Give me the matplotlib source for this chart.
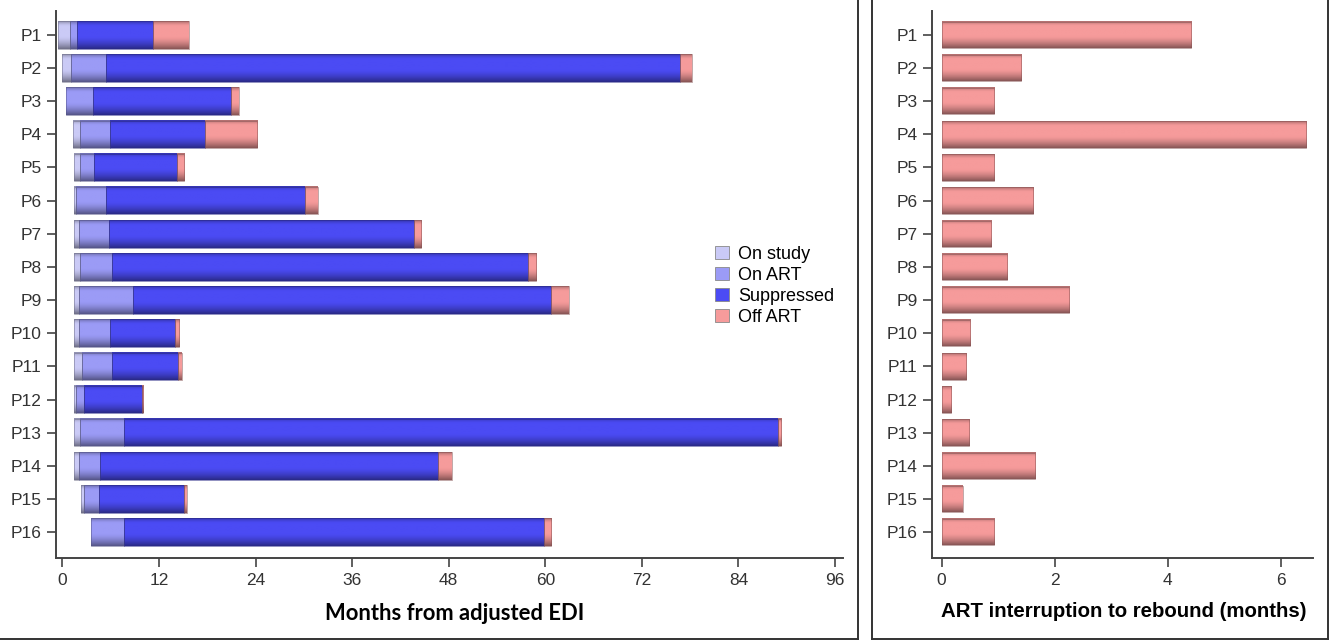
import numpy as np
import matplotlib
matplotlib.use("Agg")
import matplotlib.pyplot as plt
from matplotlib.patches import Patch, Rectangle
from matplotlib.lines import Line2D
import matplotlib.colors as mcolors

participants = ["P1", "P2", "P3", "P4", "P5", "P6", "P7", "P8",
                "P9", "P10", "P11", "P12", "P13", "P14", "P15", "P16"]
# months from adjusted EDI
study_start = [-0.5, -0.1, 0.4, 1.27, 1.39, 1.43, 1.43, 1.43,
               1.43, 1.43, 1.43, 1.43, 1.43, 1.43, 2.3, 3.58]
art_start = [0.93, 1.06, 0.4, 2.17, 2.17, 1.68, 2.0, 2.17,
             2.0, 2.09, 2.42, 1.68, 2.17, 2.0, 2.67, 3.58]
suppressed_start = [1.76, 5.4, 3.75, 5.86, 3.91, 5.4, 5.78, 6.11,
                    8.76, 5.94, 6.11, 2.71, 7.64, 4.66, 4.5, 7.64]
off_art_start = [11.28, 76.8, 21.0, 17.7, 14.22, 30.2, 43.7, 57.8,
                 60.7, 14.0, 14.4, 9.84, 88.9, 46.7, 15.1, 59.85]
rebound_time = [15.67, 78.2, 21.9, 24.2, 15.1, 31.8, 44.6, 58.9,
                62.9, 14.5, 14.85, 10.0, 89.35, 48.4, 15.45, 60.75]
# ART interruption to rebound (months)
interruption = [4.41, 1.40, 0.93, 6.45, 0.93, 1.62, 0.87, 1.16,
                2.25, 0.50, 0.44, 0.17, 0.48, 1.65, 0.37, 0.93]

months_ticks = [0, 12, 24, 36, 48, 60, 72, 84, 96]
right_ticks = [0, 2, 4, 6]

seg_names = ["On study", "On ART", "Suppressed", "Off ART"]
seg_colors = ["#cacaf6", "#9b9bf6", "#4b4bf4", "#f69b9b"]

W, H = 1337, 641
fig = plt.figure(figsize=(W / 100, H / 100), dpi=100)

def px(x0, y0, x1, y1):
    return [x0 / W, 1 - y1 / H, (x1 - x0) / W, (y1 - y0) / H]

ax1 = fig.add_axes(px(56, 11, 843, 558))
ax2 = fig.add_axes(px(932, 11, 1313, 558))

t = np.linspace(0, 1, 64)
shade = 1 - 0.45 * np.clip((t - 0.55) / 0.45, 0, 1) ** 1.5 \
          - 0.30 * np.clip((0.18 - t) / 0.18, 0, 1) ** 1.6

def grad_bar(ax, x0, x1, yc, h, color):
    if x1 - x0 <= 0:
        return
    rgb = np.array(mcolors.to_rgb(color))
    img = np.clip(shade[:, None, None] * rgb[None, None, :], 0, 1)
    ax.imshow(img, extent=[x0, x1, yc + h / 2, yc - h / 2], aspect="auto",
              interpolation="bilinear", origin="upper", zorder=2)
    edge = tuple(np.clip(rgb * 0.55, 0, 1))
    ax.add_patch(Rectangle((x0, yc - h / 2), x1 - x0, h, fill=False,
                           edgecolor=edge, linewidth=0.6, alpha=0.6, zorder=3))

ypos = np.arange(len(participants))
h1 = 0.83
for i in range(len(participants)):
    bounds = [study_start[i], art_start[i], suppressed_start[i],
              off_art_start[i], rebound_time[i]]
    for k in range(4):
        grad_bar(ax1, bounds[k], bounds[k + 1], ypos[i], h1, seg_colors[k])

h2 = 0.8
for i in range(len(participants)):
    grad_bar(ax2, 0, interruption[i], ypos[i], h2, seg_colors[3])

tick_font = dict(family="Liberation Sans", size=12.5, color="#333333")
for ax in (ax1, ax2):
    ax.set_yticks(ypos)
    ax.set_yticklabels(participants, **tick_font)
    ax.set_ylim(15.78, -0.72)
    for s in ("top", "right"):
        ax.spines[s].set_visible(False)
    for s in ("left", "bottom"):
        ax.spines[s].set_color("#444444")
        ax.spines[s].set_linewidth(1.4)
    ax.tick_params(axis="both", direction="out", length=6.5, width=1.2,
                   color="#444444", pad=4)

ax1.set_xlim(-0.8, 97)
ax1.set_xticks(months_ticks)
ax1.set_xticklabels([str(v) for v in months_ticks], **tick_font)
ax1.set_xlabel("Months from adjusted EDI", family="Lato", weight="bold",
               size=15.8)
ax1.xaxis.set_label_coords((455 - 56) / 787, (558 - 603) / 547)

ax2.set_xlim(-0.17, 6.57)
ax2.set_xticks(right_ticks)
ax2.set_xticklabels([str(v) for v in right_ticks], **tick_font)
ax2.set_xlabel("ART interruption to rebound (months)", family="Liberation Sans",
               weight="bold", size=14.7)
ax2.xaxis.set_label_coords((1124 - 932) / 381, (558 - 602) / 547)

handles = [Patch(facecolor=c, edgecolor="#888888", linewidth=0.6, label=n)
           for n, c in zip(seg_names, seg_colors)]
fig.legend(handles=handles, loc="upper left",
           bbox_to_anchor=(715 / W, 1 - 246 / H), frameon=False,
           prop=dict(family="Liberation Sans", size=13),
           handlelength=0.75, handleheight=0.75, handletextpad=0.55,
           labelspacing=0.22, borderpad=0, borderaxespad=0)

# panel frames
def fline(xs, ys):
    fig.add_artist(Line2D([x / W for x in xs], [1 - y / H for y in ys],
                          transform=fig.transFigure, color="#333333", lw=1.4))

fline([858, 858], [0, 639])
fline([0, 858], [639, 639])
fline([872, 872], [0, 639])
fline([1328, 1328], [0, 639])
fline([872, 1328], [639, 639])

fig.savefig("out.png", dpi=100, facecolor="white")
